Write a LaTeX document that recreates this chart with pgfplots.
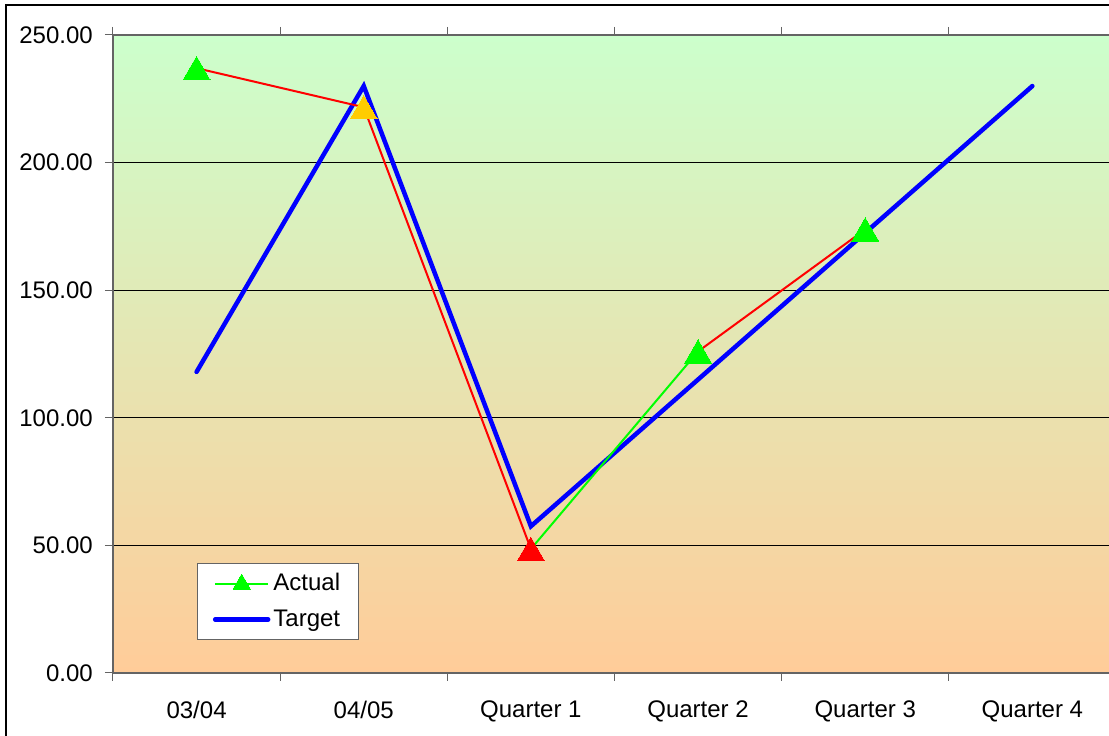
\documentclass[border=0pt]{standalone}
\usepackage{pgfplots}
\pgfplotsset{compat=1.18}
\usepackage{fontspec}
\setmainfont{Liberation Sans}

\definecolor{actgreen}{RGB}{0,255,0}
\definecolor{actred}{RGB}{255,0,0}
\definecolor{actamber}{RGB}{255,204,0}
\definecolor{tblue}{RGB}{0,0,255}
\definecolor{bgtop}{RGB}{204,255,204}
\definecolor{bgbottom}{RGB}{255,204,153}
\definecolor{axisgray}{RGB}{100,100,100}

\begin{document}
\fontsize{24pt}{28pt}\selectfont
\begin{tikzpicture}
\path[use as bounding box] (0pt,0pt) rectangle (1109pt,736pt);
\fill[white] (0pt,0pt) rectangle (1109pt,736pt);
\clip (0pt,0pt) rectangle (1109pt,736pt);
\begin{axis}[
  at={(113pt,63pt)}, anchor=south west,
  scale only axis, width=1003pt, height=638pt,
  xmin=-0.5, xmax=5.5, ymin=0, ymax=250,
  axis background/.style={shade, top color=bgtop, bottom color=bgbottom},
  axis line style={draw=axisgray, line width=1.5pt},
  ytick={0,50,100,150,200,250},
  ymajorgrids, grid style={black, line width=1pt},
  xtick={0,1,2,3,4,5},
  xticklabels={03/04,04/05,Quarter 1,Quarter 2,Quarter 3,Quarter 4},
  minor xtick={-0.5,0.5,1.5,2.5,3.5,4.5,5.5},
  major x tick style={draw=none},
  minor x tick style={draw=axisgray, line width=1pt},
  ytick style={draw=axisgray, line width=1pt},
  tick align=outside, major tick length=8pt, minor tick length=8pt,
  x axis line style={-}, y axis line style={-},
  tick label style={font=\fontsize{24pt}{28pt}\selectfont},
  xticklabel style={yshift=-12pt},
  yticklabel style={xshift=-4pt},
  yticklabel={\pgfmathprintnumber[fixed, fixed zerofill, precision=2]{\tick}},
  /pgf/number format/assume math mode=true,
  clip=false,
  legend image code/.code={\draw[mark repeat=2,mark phase=2,#1] plot coordinates {(0pt,0pt) (26.5pt,0pt) (53pt,0pt)};},
  legend style={at={(0.0837,0.1724)}, anchor=north west, draw=axisgray, line width=1pt,
    fill=white, font=\fontsize{24pt}{28pt}\selectfont, inner xsep=15.5pt, inner ysep=7pt,
    nodes={inner xsep=3pt, inner ysep=3pt}, row sep=9pt},
  legend cell align=left,
]
% target path
\addplot[forget plot, color=tblue, line width=4.5pt, line cap=round]
  coordinates {(0,118) (1,230) (2,57.5) (3,115) (4,172.5) (5,230)};
% actual path, coloured segment by segment
\addplot[forget plot, color=actred, line width=2pt]
  coordinates {(0,237) (1,221.7) (2,48.6)};
\addplot[forget plot, color=actgreen, line width=2pt]
  coordinates {(2,48.6) (3,126)};
\addplot[forget plot, color=actred, line width=2pt]
  coordinates {(3,126) (4,173.8)};
% status markers
\addplot[forget plot, color=actgreen, only marks, mark=triangle*, mark size=15.5pt,
  mark options={fill=actgreen, draw=actgreen, line width=0pt, yshift=-3.9pt}]
  coordinates {(0,237) (3,126) (4,173.8)};
\addplot[forget plot, color=actamber, only marks, mark=triangle*, mark size=15.5pt,
  mark options={fill=actamber, draw=actamber, line width=0pt, yshift=-3.9pt}]
  coordinates {(1,221.7)};
\addplot[forget plot, color=actred, only marks, mark=triangle*, mark size=15.5pt,
  mark options={fill=actred, draw=actred, line width=0pt, yshift=-3.9pt}]
  coordinates {(2,48.6)};
\addlegendimage{color=actgreen, line width=2pt, mark=triangle*, mark size=10pt,
  mark options={fill=actgreen, draw=actgreen, line width=0pt}}
\addlegendentry{Actual}
\addlegendimage{color=tblue, line width=4.5pt, line cap=round}
\addlegendentry{Target}
\end{axis}
% chart frame
\draw[black, line width=2pt] (6pt,0pt) -- (6pt,731pt) -- (1109pt,731pt);
\end{tikzpicture}
\end{document}
